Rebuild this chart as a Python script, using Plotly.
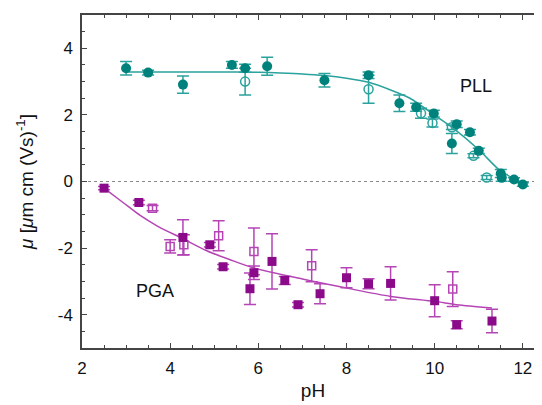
import plotly.graph_objects as go

# ---------------- data ----------------
# PLL (teal) filled circles
pll_ph = [3.0, 3.5, 4.29, 5.4, 5.7, 6.2, 7.5, 8.5, 9.2, 9.58, 9.98, 10.39, 10.5, 10.8, 11.0, 11.5, 11.52, 11.8, 12.0]
pll_mu = [3.40, 3.27, 2.91, 3.50, 3.40, 3.46, 3.04, 3.19, 2.35, 2.23, 2.04, 1.14, 1.72, 1.48, 0.92, 0.24, 0.11, 0.06, -0.09]
pll_err = [0.2, 0.07, 0.26, 0.1, 0.12, 0.27, 0.2, 0.1, 0.25, 0.12, 0.1, 0.3, 0.1, 0.08, 0.08, 0.12, 0.1, 0.05, 0.05]

# PLL open circles
pll2_ph = [5.7, 8.5, 9.69, 9.95, 10.39, 10.88, 11.18]
pll2_mu = [3.0, 2.77, 2.05, 1.76, 1.63, 0.77, 0.12]
pll2_err = [0.4, 0.42, 0.15, 0.12, 0.07, 0.06, 0.06]

# PLL fit curve
pll_fit_ph = [3.0, 4.0, 5.0, 6.0, 6.5, 7.0, 7.5, 8.0, 8.5, 9.0, 9.44, 10.0, 10.39, 11.02, 11.48, 12.0]
pll_fit_mu = [3.29, 3.29, 3.29, 3.28, 3.26, 3.23, 3.18, 3.1, 2.98, 2.75, 2.5, 1.99, 1.63, 0.93, 0.33, -0.06]

# PGA (purple) filled squares
pga_ph = [2.5, 3.29, 4.29, 4.9, 5.2, 5.81, 5.9, 6.31, 6.6, 6.9, 7.4, 8.0, 8.5, 9.0, 10.0, 10.5, 11.3]
pga_mu = [-0.2, -0.63, -1.68, -1.9, -2.56, -3.22, -2.74, -2.4, -2.97, -3.7, -3.37, -2.89, -3.07, -3.06, -3.58, -4.3, -4.19]
pga_err = [0.05, 0.07, 0.53, 0.07, 0.07, 0.47, 0.2, 0.83, 0.12, 0.07, 0.3, 0.3, 0.15, 0.5, 0.48, 0.12, 0.35]

# PGA open squares
pga2_ph = [3.6, 4.0, 4.31, 5.1, 5.9, 7.21, 10.41]
pga2_mu = [-0.8, -1.95, -1.9, -1.63, -2.1, -2.53, -3.23]
pga2_err = [0.08, 0.2, 0.3, 0.45, 0.7, 0.48, 0.52]

# PGA fit curve
pga_fit_ph = [2.5, 2.93, 3.32, 3.7, 4.29, 4.83, 5.36, 5.88, 7.0, 8.0, 9.0, 10.0, 10.5, 11.3]
pga_fit_mu = [-0.2, -0.63, -1.02, -1.33, -1.72, -2.08, -2.35, -2.59, -2.93, -3.2, -3.45, -3.6, -3.7, -3.8]

x_ticks = [2, 4, 6, 8, 10, 12]
y_ticks = [-4, -2, 0, 2, 4]

TEAL = "#00827c"
TEAL_L = "#2aa29d"
PURP = "#8a0a8a"
PURP_L = "#b545b5"
FONT = "Liberation Sans, Arial, sans-serif"

fig = go.Figure()

# fit curves
fig.add_trace(go.Scatter(x=pll_fit_ph, y=pll_fit_mu, mode="lines",
                         line=dict(color=TEAL_L, width=1.5, shape="spline", smoothing=0.6),
                         hoverinfo="skip", showlegend=False))
fig.add_trace(go.Scatter(x=pga_fit_ph, y=pga_fit_mu, mode="lines",
                         line=dict(color=PURP_L, width=1.5, shape="spline", smoothing=0.8),
                         hoverinfo="skip", showlegend=False))

# PLL points
fig.add_trace(go.Scatter(x=pll2_ph, y=pll2_mu, mode="markers",
                         marker=dict(symbol="circle-open", size=9, color=TEAL_L, line=dict(width=1.5)),
                         error_y=dict(type="data", array=pll2_err, color=TEAL_L, thickness=1.5, width=6),
                         showlegend=False))
fig.add_trace(go.Scatter(x=pll_ph, y=pll_mu, mode="markers",
                         marker=dict(symbol="circle", size=10, color=TEAL),
                         error_y=dict(type="data", array=pll_err, color=TEAL_L, thickness=1.5, width=6),
                         showlegend=False))

# PGA points
fig.add_trace(go.Scatter(x=pga2_ph, y=pga2_mu, mode="markers",
                         marker=dict(symbol="square-open", size=8, color=PURP_L, line=dict(width=1.5)),
                         error_y=dict(type="data", array=pga2_err, color=PURP_L, thickness=1.5, width=6),
                         showlegend=False))
fig.add_trace(go.Scatter(x=pga_ph, y=pga_mu, mode="markers",
                         marker=dict(symbol="square", size=9, color=PURP),
                         error_y=dict(type="data", array=pga_err, color=PURP_L, thickness=1.5, width=6),
                         showlegend=False))

# zero line (dotted)
fig.add_shape(type="line", xref="paper", x0=0, x1=1, yref="y", y0=0, y1=0,
              line=dict(color="#888888", width=1.2, dash="dot"), layer="below")

# labels
fig.add_annotation(x=10.93, y=2.86, text="PLL", showarrow=False,
                   font=dict(family=FONT, size=18, color="#111111"))
fig.add_annotation(x=3.65, y=-3.28, text="PGA", showarrow=False,
                   font=dict(family=FONT, size=18, color="#111111"))

axis_common = dict(showgrid=False, zeroline=False, showline=True, linecolor="#444444",
                   linewidth=1.5, mirror="ticks", ticks="inside", ticklen=5, tickwidth=1.2,
                   tickcolor="#444444", automargin=False,
                   tickfont=dict(family=FONT, size=17, color="#111111"))

fig.update_xaxes(range=[2, 12.48], tickvals=x_ticks, ticktext=[str(v) for v in x_ticks],
                 minor=dict(dtick=0.5, ticks="inside", ticklen=3, tickcolor="#444444"),
                 ticklabelstandoff=4,
                 title=dict(text="pH", font=dict(family=FONT, size=19, color="#111111"), standoff=7),
                 **axis_common)
fig.update_yaxes(range=[-5, 5], tickvals=y_ticks, ticktext=[str(v) for v in y_ticks],
                 minor=dict(dtick=0.5, ticks="inside", ticklen=3, tickcolor="#444444"),
                 ticklabelstandoff=4,
                 title=dict(text="<i>μ</i> [<i>μ</i>m cm (Vs)<sup>-1</sup>]",
                            font=dict(family=FONT, size=19, color="#111111"), standoff=19),
                 **axis_common)

# page body has an 8px default margin, so the figure is offset accordingly
fig.update_layout(width=536, height=397, margin=dict(l=74, r=0, t=7, b=57),
                  plot_bgcolor="white", paper_bgcolor="white", showlegend=False)

fig.write_html("out.html")
